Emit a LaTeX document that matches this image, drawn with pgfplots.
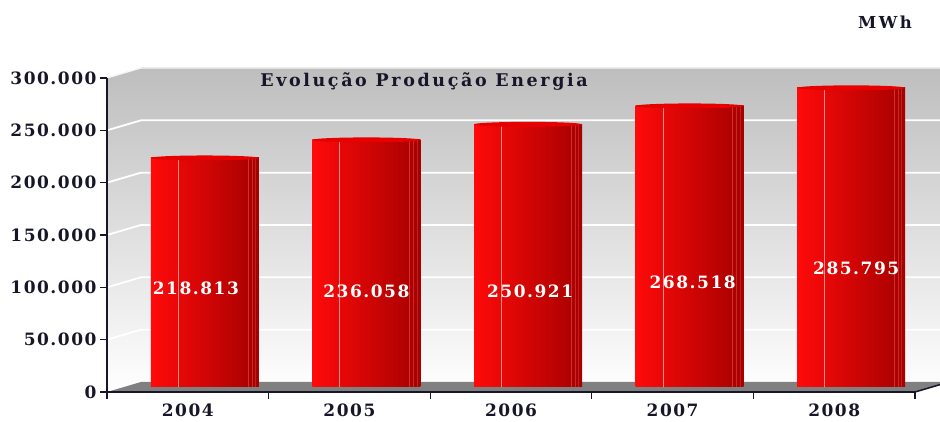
\documentclass[border=0pt]{standalone}
\usepackage{fontspec}
\setmainfont{DejaVu Serif}
\newfontfamily\numfont[LetterSpace=9]{DejaVu Serif}
\newfontfamily\titlefont[LetterSpace=15]{DejaVu Serif}
\usepackage{pgfplots}
\pgfplotsset{compat=1.18}
\definecolor{wallgray}{RGB}{190,190,190}
\definecolor{floorgray}{RGB}{128,128,128}
\definecolor{barlight}{RGB}{255,10,10}
\definecolor{barmid}{RGB}{225,0,0}
\definecolor{bardark}{RGB}{165,0,0}
\definecolor{bartop}{RGB}{230,0,0}
\definecolor{barline}{RGB}{235,80,80}
\definecolor{txt}{RGB}{22,22,40}
\pgfplotsset{cyl/.style={ybar, bar width=108pt, bar shift=17pt, yshift=5pt, draw=none,
  left color=barlight, middle color=barmid, right color=bardark}}
\begin{document}
\begin{tikzpicture}
\begin{axis}[
  set layers,
  scale only axis, width=808pt, height=314pt,
  xmin=-0.5, xmax=4.5, ymin=0, ymax=300000,
  clip=false,
  axis x line*=bottom, axis y line*=left,
  axis line style={txt, line width=1.5pt},
  tick align=outside, major tick length=7pt,
  tick style={txt, line width=1.2pt},
  xtick={-0.5,0.5,1.5,2.5,3.5,4.5},
  xticklabels={2004,2005,2006,2007,2008,{}},
  xticklabel style={xshift=80.8pt, yshift=-1pt},
  ytick={0,50000,100000,150000,200000,250000,300000},
  scaled y ticks=false,
  ticklabel style={font=\numfont\fontsize{17}{20}\selectfont\bfseries, text=txt},
  yticklabel style={/pgf/number format/.cd, fixed, precision=0, 1000 sep={.}, assume math mode=true},
]
\begin{pgfonlayer}{axis background}
\fill[top color=wallgray, bottom color=white]
  (axis cs:-0.5,0) -- (axis cs:-0.5,300000) -- ++(34pt,10pt)
  -- ([yshift=10pt]axis cs:4.66,300000) -- (axis cs:4.66,0) -- cycle;
\draw[white!92!gray, line width=1.2pt] (axis cs:-0.5,300000) -- ++(34pt,10pt) -- ([yshift=10pt]axis cs:4.66,300000);
\pgfplotsinvokeforeach{50000,100000,150000,200000,250000}{
  \draw[white, line width=1.8pt] (axis cs:-0.5,#1) -- ++(34pt,10pt) -- ([yshift=10pt]axis cs:4.66,#1);
}
\fill[floorgray] (axis cs:-0.5,0) -- (axis cs:4.5,0) -- ++(34pt,10pt)
  -- ([xshift=34pt,yshift=10pt]axis cs:-0.5,0) -- cycle;
\draw[txt, line width=1.5pt] (axis cs:4.5,0) -- ++(34pt,10pt);
\end{pgfonlayer}
\coordinate (O) at (axis cs:-0.5,0);

% cylinder bodies, one plot per bar so each has its own shading
\addplot[cyl] coordinates {(0,218813)};
\addplot[cyl] coordinates {(1,236058)};
\addplot[cyl] coordinates {(2,250921)};
\addplot[cyl] coordinates {(3,268518)};
\addplot[cyl] coordinates {(4,285795)};
% cylinder tops
\addplot[only marks, draw=none, mark=*, mark size=2.5pt, xshift=17pt, yshift=5pt,
  mark options={xscale=21.6, draw=none, draw opacity=0, fill=bartop}]
  coordinates {(0,218813) (1,236058) (2,250921) (3,268518) (4,285795)};
% highlight stripes
\addplot[ycomb, mark=none, draw=white, opacity=0.55, line width=0.9pt, xshift=-9.5pt, yshift=5pt]
  coordinates {(0,218813) (1,236058) (2,250921) (3,268518) (4,285795)};
\addplot[ycomb, mark=none, draw=barline, opacity=0.6, line width=0.6pt, xshift=60pt, yshift=5pt]
  coordinates {(0,218813) (1,236058) (2,250921) (3,268518) (4,285795)};
\addplot[ycomb, mark=none, draw=barline, opacity=0.5, line width=0.6pt, xshift=64pt, yshift=5pt]
  coordinates {(0,218813) (1,236058) (2,250921) (3,268518) (4,285795)};
\addplot[ycomb, mark=none, draw=barline, opacity=0.4, line width=0.6pt, xshift=67.5pt, yshift=5pt]
  coordinates {(0,218813) (1,236058) (2,250921) (3,268518) (4,285795)};
% value labels
\addplot[draw=none, mark=none, nodes near coords, point meta=explicit symbolic,
  nodes near coords align={center},
  every node near coord/.append style={text=white, font=\numfont\fontsize{17}{20}\selectfont\bfseries}]
  coordinates {(0.05,99363)[218.813] (1.105,96497)[236.058] (2.118,96497)[250.921]
               (3.124,105096)[268.518] (4.136,118471)[285.795]};

\node[font=\titlefont\fontsize{17.5}{20}\selectfont\bfseries, text=txt] at (axis cs:1.462,296178) {Evolução Produção Energia};
\node[font=\titlefont\fontsize{16.5}{20}\selectfont\bfseries, text=txt] at (axis cs:4.314,353503) {MWh};
\end{axis}
\pgfresetboundingbox
\path[use as bounding box] ([shift={(-107pt,-30pt)}]O) rectangle ++(940pt,422pt);
\end{tikzpicture}
\end{document}
